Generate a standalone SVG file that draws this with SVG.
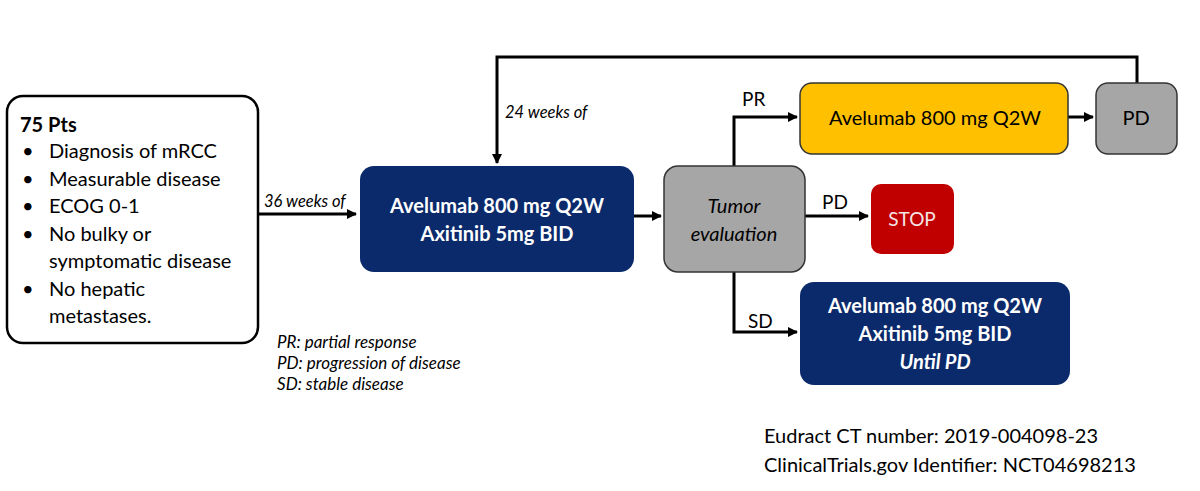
<svg xmlns="http://www.w3.org/2000/svg" width="1200" height="491" viewBox="0 0 1200 491">
<defs>
<marker id="ah" markerWidth="10" markerHeight="10" refX="9" refY="5" orient="auto" markerUnits="userSpaceOnUse">
<path d="M0,0 L10,5 L0,10 Z" fill="#000"/>
</marker>
<style>
text{font-family:Lato,"Open Sans","Liberation Sans",sans-serif;}
.c{stroke:#000;stroke-width:3;fill:none;}
.t{font-size:20px;fill:#000;}
.w{font-size:20px;fill:#fff;font-weight:bold;text-anchor:middle;}
.i{font-style:italic;}
.m{text-anchor:middle;}
.lg{font-size:17px;font-style:italic;fill:#000;}
</style>
</defs>
<rect width="1200" height="491" fill="#fff"/>
<g id="connectors">
<path class="c" d="M258,214 H356" marker-end="url(#ah)"/>
<path class="c" d="M634,216 H661" marker-end="url(#ah)"/>
<path class="c" d="M1137,83 V57 H497 V163" marker-end="url(#ah)"/>
<path class="c" d="M734,166 V117 H797" marker-end="url(#ah)"/>
<path class="c" d="M1068,117 H1093" marker-end="url(#ah)"/>
<path class="c" d="M805,216 H868" marker-end="url(#ah)"/>
<path class="c" d="M734,272 V332 H797" marker-end="url(#ah)"/>
<text class="t i" x="264" y="207" style="font-size:16.5px">36 weeks of</text>
<text class="t i" x="505" y="118" style="font-size:16.5px">24 weeks of</text>
<text class="t" x="742" y="106" style="font-size:19px">PR</text>
<text class="t" x="822" y="209" style="font-size:19px">PD</text>
<text class="t" x="748" y="328" style="font-size:19px">SD</text>
</g>
<g id="patients">
<rect x="7" y="96" width="251" height="247" rx="16" fill="#fff" stroke="#000" stroke-width="2.5"/>
<text class="t" x="20" y="132" font-weight="bold">75 Pts</text>
<g class="t">
<text x="22" y="158">•</text><text x="49" y="158">Diagnosis of mRCC</text>
<text x="22" y="186">•</text><text x="49" y="186">Measurable disease</text>
<text x="22" y="213">•</text><text x="49" y="213">ECOG 0-1</text>
<text x="22" y="241">•</text><text x="49" y="241">No bulky or</text>
<text x="49" y="268">symptomatic disease</text>
<text x="22" y="296">•</text><text x="49" y="296">No hepatic</text>
<text x="49" y="323">metastases.</text>
</g>
</g>
<g id="combo1">
<rect x="360" y="166" width="274" height="106" rx="14" fill="#0b2a6b"/>
<text class="w" x="497" y="213">Avelumab 800 mg Q2W</text>
<text class="w" x="497" y="241">Axitinib 5mg BID</text>
</g>
<g id="tumor">
<rect x="664" y="166" width="141" height="106" rx="14" fill="#a6a6a6" stroke="#333" stroke-width="1.5"/>
<text class="t i m" x="734" y="213">Tumor</text>
<text class="t i m" x="734" y="241">evaluation</text>
</g>
<g id="ave">
<rect x="800" y="83" width="268" height="71" rx="12" fill="#ffc000" stroke="#333" stroke-width="1.5"/>
<text class="t m" x="935" y="125" fill="#222">Avelumab 800 mg Q2W</text>
</g>
<g id="pd">
<rect x="1096" y="83" width="81" height="71" rx="12" fill="#a6a6a6" stroke="#333" stroke-width="1.5"/>
<text class="t m" x="1136" y="125">PD</text>
</g>
<g id="stop">
<rect x="871" y="184" width="83" height="70" rx="10" fill="#c00000"/>
<text class="m" x="912" y="226" style="font-size:19px;fill:#f4e6e6">STOP</text>
</g>
<g id="combo2">
<rect x="800" y="282" width="270" height="103" rx="14" fill="#0b2a6b"/>
<text class="w" x="935" y="313">Avelumab 800 mg Q2W</text>
<text class="w" x="935" y="341">Axitinib 5mg BID</text>
<text class="w i" x="935" y="369">Until PD</text>
</g>
<g id="legend">
<text class="lg" x="277" y="348">PR: partial response</text>
<text class="lg" x="277" y="369">PD: progression of disease</text>
<text class="lg" x="277" y="390">SD: stable disease</text>
</g>
<g id="footer">
<text class="t" x="764" y="443">Eudract CT number: 2019-004098-23</text>
<text class="t" x="764" y="472">ClinicalTrials.gov Identifier: NCT04698213</text>
</g>
</svg>
